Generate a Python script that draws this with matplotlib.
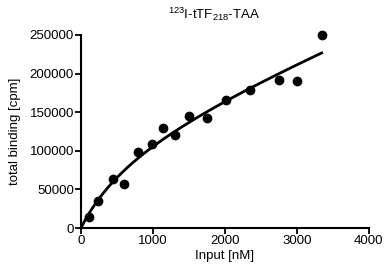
import numpy as np
import matplotlib
matplotlib.use("Agg")
import matplotlib.pyplot as plt

plt.rcParams['font.family'] = ['Liberation Sans', 'DejaVu Sans']
plt.rcParams['mathtext.fontset'] = 'custom'
plt.rcParams['mathtext.rm'] = 'Liberation Sans'
plt.rcParams['mathtext.it'] = 'Liberation Sans'

# data
input_nm = [110, 240, 445, 600, 790, 985, 1140, 1305, 1500, 1750, 2010, 2345, 2750, 3000, 3345]
binding = [15000, 35000, 63000, 57000, 98000, 109000, 129000, 120000, 145000, 142000,
           166000, 179000, 192000, 190000, 250000]
xticks = [0, 1000, 2000, 3000, 4000]
yticks = [0, 50000, 100000, 150000, 200000, 250000]

x = np.array(input_nm, float)
y = np.array(binding, float)

# total binding = specific (hyperbola) + nonspecific (linear), least squares over Kd
best = None
for kd in np.linspace(100, 20000, 800):
    A = np.column_stack([x / (kd + x), x])
    coef, res, *_ = np.linalg.lstsq(A, y, rcond=None)
    err = np.sum((A @ coef - y) ** 2)
    if best is None or err < best[0]:
        best = (err, kd, coef)
_, kd, (bmax, ns) = best
xf = np.linspace(0, x.max(), 200)
yf = bmax * xf / (kd + xf) + ns * xf

fig = plt.figure(figsize=(3.85, 2.69), dpi=100)
ax = fig.add_axes([0.21, 0.152, 0.748, 0.718])
ax.plot(xf, yf, color='black', lw=2)
ax.plot(x, y, 'o', color='black', ms=6, clip_on=False)

ax.set_xlim(0, 4000)
ax.set_ylim(0, 250000)
ax.set_xticks(xticks)
ax.set_yticks(yticks)
ax.tick_params(labelsize=9.5, width=1.3, length=4, direction='out', pad=1)
for s in ['top', 'right']:
    ax.spines[s].set_visible(False)
for s in ['left', 'bottom']:
    ax.spines[s].set_linewidth(1.5)
ax.set_xlabel('Input [nM]', fontsize=9.5, labelpad=2)
ax.set_ylabel('total binding [cpm]', fontsize=9.5, labelpad=6)
fig.text(0.555, 0.93, r'$^{123}$I-tTF$_{218}$-TAA', ha='center', fontsize=9.5)

fig.savefig('out.png', dpi=100)
